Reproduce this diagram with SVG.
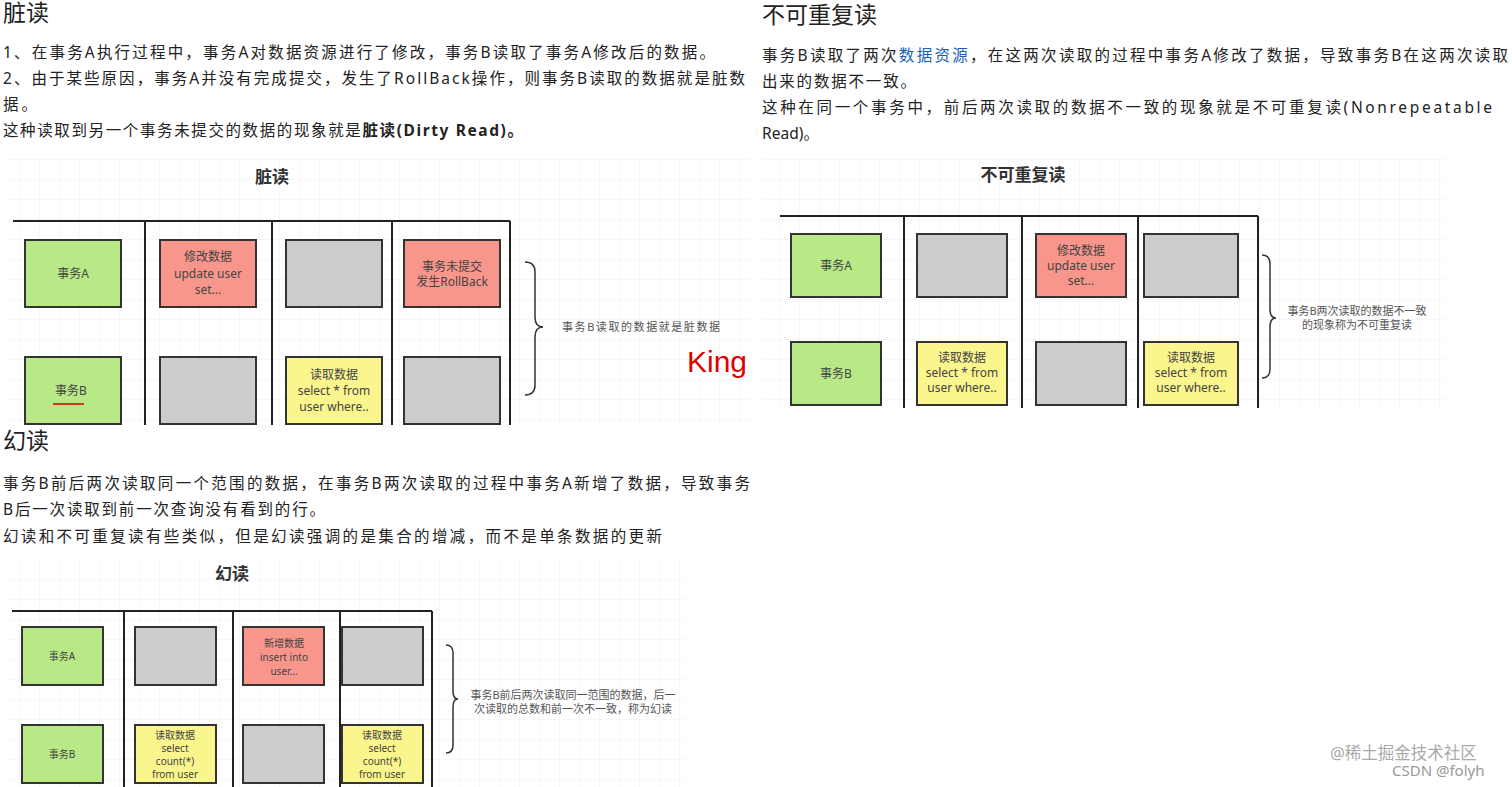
<svg xmlns="http://www.w3.org/2000/svg" width="1512" height="787" viewBox="0 0 1512 787">
<style>
text{font-family:"Noto Sans","Noto Sans CJK SC",sans-serif;fill:#222}
.p{font-size:15.5px}
.h{font-size:23px}
.t{font-size:17px;font-weight:bold;fill:#333}
.n{font-size:12px;fill:#444;text-anchor:middle}
.m{font-size:10px;fill:#444;text-anchor:middle}
.s{font-size:11px;fill:#555}
.ln{stroke:#222;stroke-width:2;fill:none}
.g{fill:#b8e986;stroke:#333;stroke-width:2}
.r{fill:#f8968c;stroke:#333;stroke-width:2}
.y{fill:#fbf58e;stroke:#333;stroke-width:2}
.k{fill:#cccccc;stroke:#333;stroke-width:2}
.br{stroke:#333;stroke-width:1.5;fill:none}
</style>
<defs>
<pattern id="grid" width="20" height="20" patternUnits="userSpaceOnUse">
<path d="M20 0V20H0" fill="none" stroke="#eeeeee" stroke-width="1"/>
</pattern>
</defs>
<rect width="1512" height="787" fill="#fff"/>
<rect x="5" y="158" width="745" height="268" fill="url(#grid)"/>
<rect x="762" y="158" width="683" height="250" fill="url(#grid)"/>
<rect x="5" y="560" width="680" height="227" fill="url(#grid)"/>

<g id="text-left">
<text x="3" y="21" class="h" font-size="20">脏读</text>
<text x="3" y="58" class="p" textLength="712" lengthAdjust="spacing">1、在事务A执行过程中，事务A对数据资源进行了修改，事务B读取了事务A修改后的数据。</text>
<text x="3" y="84" class="p" textLength="742" lengthAdjust="spacing">2、由于某些原因，事务A并没有完成提交，发生了RollBack操作，则事务B读取的数据就是脏数</text>
<text x="3" y="110" class="p" textLength="34" lengthAdjust="spacing">据。</text>
<text x="3" y="136" class="p" textLength="520" lengthAdjust="spacing">这种读取到另一个事务未提交的数据的现象就是<tspan font-weight="bold">脏读(Dirty Read)。</tspan></text>
<text x="3" y="449" class="h" font-size="21">幻读</text>
<text x="3" y="489" class="p" textLength="747" lengthAdjust="spacing">事务B前后两次读取同一个范围的数据，在事务B两次读取的过程中事务A新增了数据，导致事务</text>
<text x="3" y="515" class="p" textLength="322" lengthAdjust="spacing">B后一次读取到前一次查询没有看到的行。</text>
<text x="3" y="542" class="p" textLength="659" lengthAdjust="spacing">幻读和不可重复读有些类似，但是幻读强调的是集合的增减，而不是单条数据的更新</text>
</g>
<g id="text-right">
<text x="762" y="23" class="h">不可重复读</text>
<text x="762" y="61" class="p" textLength="746" lengthAdjust="spacing">事务B读取了两次<tspan fill="#1a5fb4">数据资源</tspan>，在这两次读取的过程中事务A修改了数据，导致事务B在这两次读取</text>
<text x="762" y="87" class="p" textLength="154" lengthAdjust="spacing">出来的数据不一致。</text>
<text x="762" y="113" class="p" textLength="730" lengthAdjust="spacing">这种在同一个事务中，前后两次读取的数据不一致的现象就是不可重复读(Nonrepeatable</text>
<text x="762" y="139" class="p" textLength="57" lengthAdjust="spacing">Read)。</text>
</g>

<!-- Diagram 1 -->
<g id="d1-frame">
<text x="272" y="183" class="t" text-anchor="middle">脏读</text>
<path class="ln" d="M13 221H510M145 221V425M272 221V425M392 221V425M510 221V425"/>
</g>
<g id="d1-a"><rect class="g" x="25" y="240" width="96" height="67"/><text class="n" x="73" y="278">事务A</text></g>
<g id="d1-a2"><rect class="r" x="160" y="240" width="96" height="67"/><text class="n" x="208" y="261">修改数据</text><text class="n" x="208" y="278">update user</text><text class="n" x="208" y="294">set...</text></g>
<g id="d1-a3"><rect class="k" x="286" y="240" width="96" height="67"/></g>
<g id="d1-a4"><rect class="r" x="404" y="240" width="96" height="67"/><text class="n" x="452" y="271">事务未提交</text><text class="n" x="452" y="286">发生RollBack</text></g>
<g id="d1-b"><rect class="g" x="25" y="357" width="96" height="67"/><text class="n" x="71" y="395">事务B</text><path d="M53 404H84" stroke="#c00" stroke-width="1.5"/></g>
<g id="d1-b2"><rect class="k" x="160" y="357" width="96" height="67"/></g>
<g id="d1-b3"><rect class="y" x="286" y="357" width="96" height="67"/><text class="n" x="334" y="379">读取数据</text><text class="n" x="334" y="395">select * from</text><text class="n" x="334" y="411">user where..</text></g>
<g id="d1-b4"><rect class="k" x="404" y="357" width="96" height="67"/></g>
<g id="d1-note">
<path class="br" d="M525 262q10 0 10 10v45q0 10 8 10q-8 0 -8 10v48q0 10 -10 10"/>
<text class="s" x="562" y="331" textLength="158" lengthAdjust="spacing">事务B读取的数据就是脏数据</text>
<text x="687" y="372" font-size="30" style="fill:#e00000;font-family:'Liberation Sans',sans-serif">King</text>
</g>

<!-- Diagram 2 -->
<g id="d2-frame">
<text x="1023" y="181" class="t" text-anchor="middle">不可重复读</text>
<path class="ln" d="M780 216H1258M904 216V408M1022 216V408M1138 216V408M1258 216V408"/>
</g>
<g id="d2-a"><rect class="g" x="791" y="234" width="90" height="63"/><text class="n" x="836" y="270">事务A</text></g>
<g id="d2-a2"><rect class="k" x="917" y="234" width="90" height="63"/></g>
<g id="d2-a3"><rect class="r" x="1036" y="234" width="90" height="63"/><text class="n" x="1081" y="255">修改数据</text><text class="n" x="1081" y="270">update user</text><text class="n" x="1081" y="285">set...</text></g>
<g id="d2-a4"><rect class="k" x="1144" y="234" width="94" height="63"/></g>
<g id="d2-b"><rect class="g" x="791" y="342" width="90" height="63"/><text class="n" x="836" y="378">事务B</text></g>
<g id="d2-b2"><rect class="y" x="917" y="342" width="90" height="63"/><text class="n" x="962" y="362">读取数据</text><text class="n" x="962" y="377">select * from</text><text class="n" x="962" y="392">user where..</text></g>
<g id="d2-b3"><rect class="k" x="1036" y="342" width="90" height="63"/></g>
<g id="d2-b4"><rect class="y" x="1144" y="342" width="94" height="63"/><text class="n" x="1191" y="362">读取数据</text><text class="n" x="1191" y="377">select * from</text><text class="n" x="1191" y="392">user where..</text></g>
<g id="d2-note">
<path class="br" d="M1262 255q8 0 8 9v45q0 9 6 9q-6 0 -6 9v42q0 9 -8 9"/>
<text class="s" x="1357" y="315" text-anchor="middle" font-size="11">事务B两次读取的数据不一致</text>
<text class="s" x="1357" y="329" text-anchor="middle" font-size="11">的现象称为不可重复读</text>
</g>

<!-- Diagram 3 -->
<g id="d3-frame">
<text x="232" y="580" class="t" text-anchor="middle">幻读</text>
<path class="ln" d="M12 611H432M124 611V787M233 611V787M340 611V787M432 611V787"/>
</g>
<g id="d3-a"><rect class="g" x="22" y="627" width="81" height="58"/><text class="m" x="62" y="660">事务A</text></g>
<g id="d3-a2"><rect class="k" x="135" y="627" width="81" height="58"/></g>
<g id="d3-a3"><rect class="r" x="243" y="627" width="81" height="58"/><text class="m" x="284" y="647">新增数据</text><text class="m" x="284" y="661">insert into</text><text class="m" x="284" y="675">user...</text></g>
<g id="d3-a4"><rect class="k" x="342" y="627" width="81" height="58"/></g>
<g id="d3-b"><rect class="g" x="22" y="725" width="81" height="58"/><text class="m" x="62" y="758">事务B</text></g>
<g id="d3-b2"><rect class="y" x="135" y="725" width="81" height="58"/><text class="m" x="175" y="739">读取数据</text><text class="m" x="175" y="752">select</text><text class="m" x="175" y="765">count(*)</text><text class="m" x="175" y="778">from user</text></g>
<g id="d3-b3"><rect class="k" x="243" y="725" width="81" height="58"/></g>
<g id="d3-b4"><rect class="y" x="342" y="725" width="81" height="58"/><text class="m" x="382" y="739">读取数据</text><text class="m" x="382" y="752">select</text><text class="m" x="382" y="765">count(*)</text><text class="m" x="382" y="778">from user</text></g>
<g id="d3-note">
<path class="br" d="M446 645q7 0 7 8v38q0 8 5 8q-5 0 -5 8v38q0 8 -7 8"/>
<text class="s" x="573" y="699" text-anchor="middle" font-size="9.5">事务B前后两次读取同一范围的数据，后一</text>
<text class="s" x="573" y="713" text-anchor="middle" font-size="9.5">次读取的总数和前一次不一致，称为幻读</text>
</g>

<g id="connectors"></g>
<g id="watermark">
<text x="1330" y="759" font-size="16.5" style="fill:#aaa">@稀土掘金技术社区</text>
<text x="1392" y="776" font-size="15" style="fill:#999">CSDN @folyh</text>
</g>
</svg>
